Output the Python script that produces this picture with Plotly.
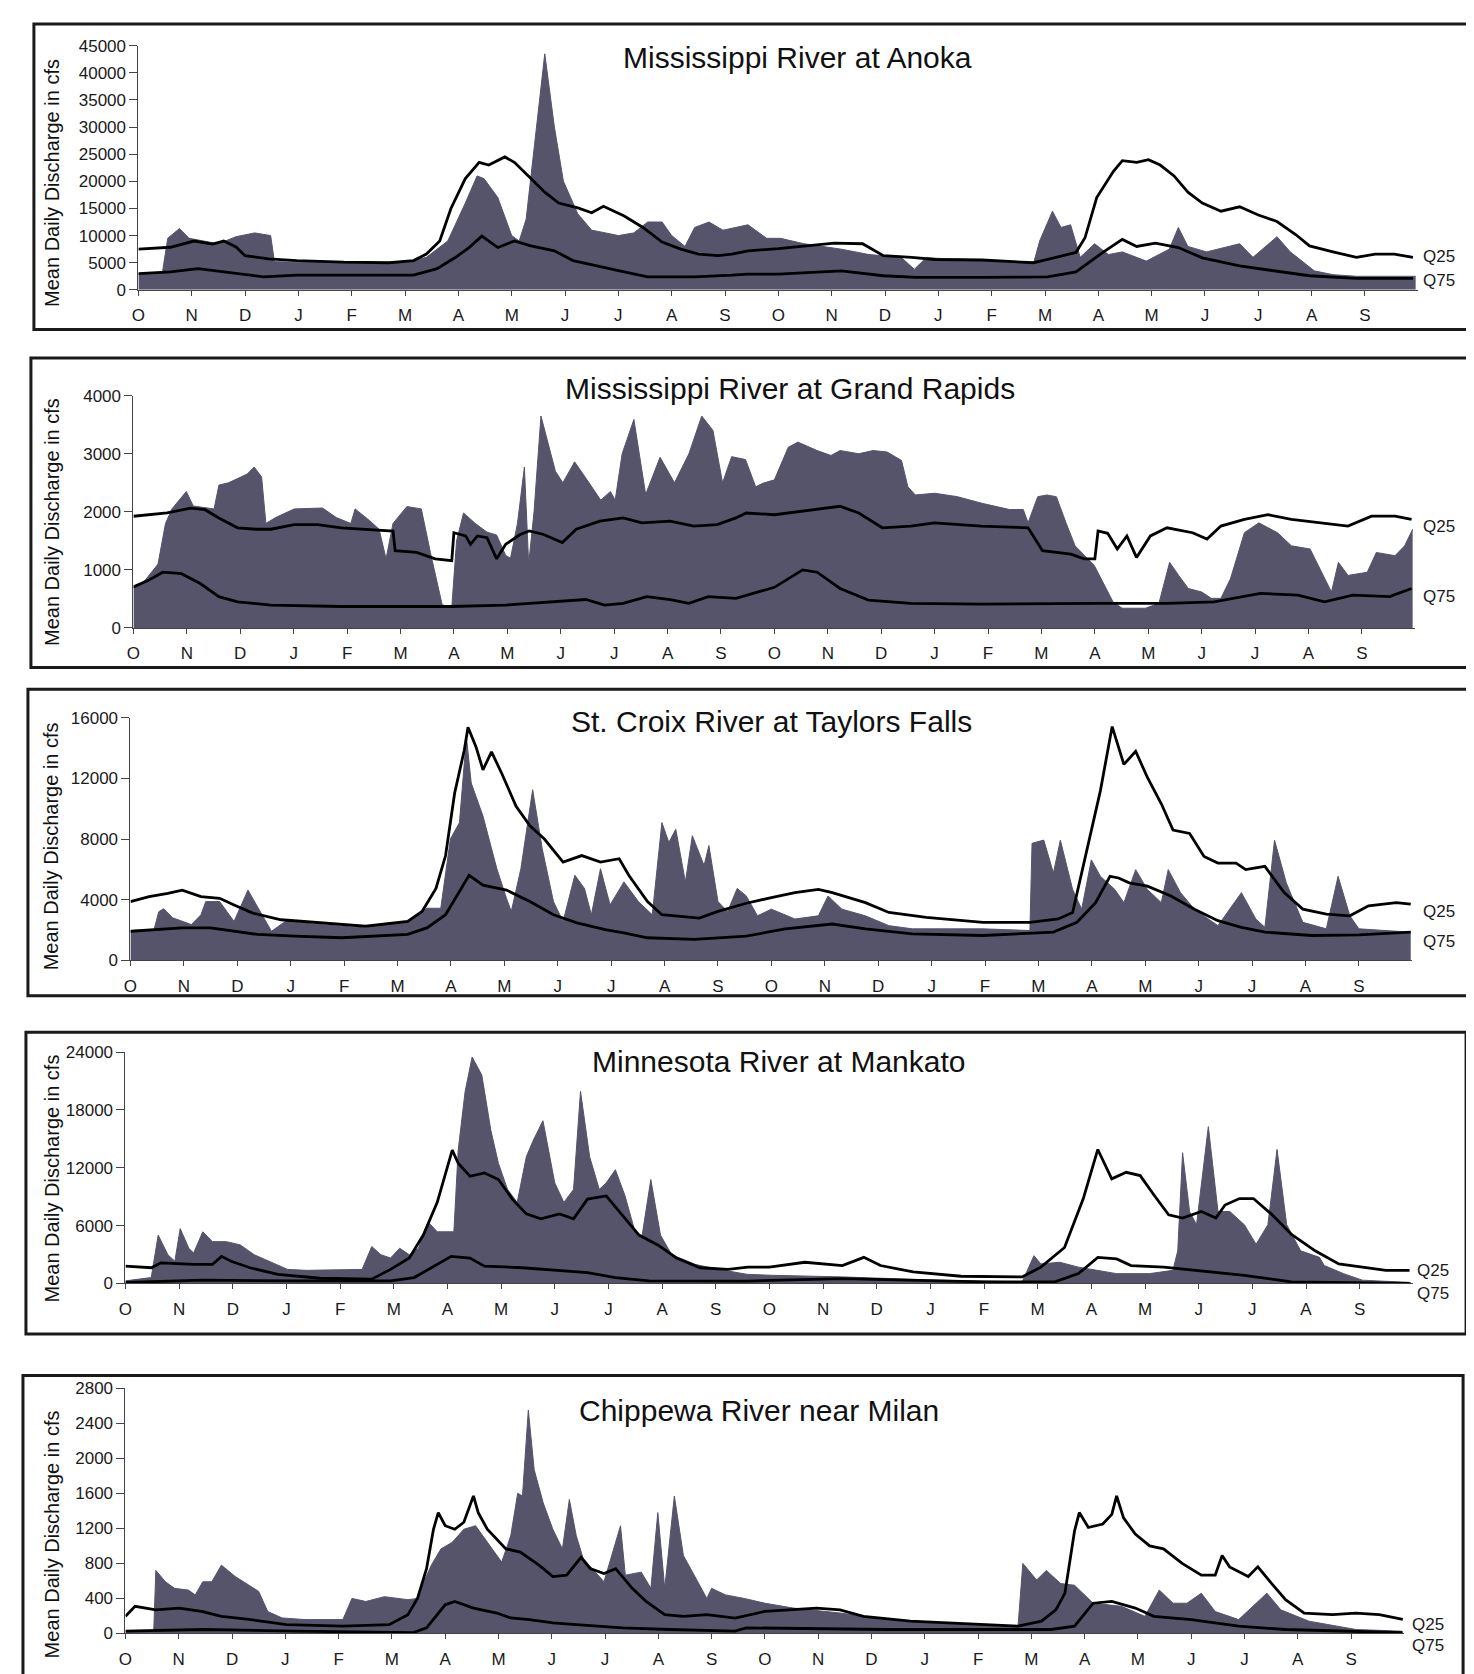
import plotly.graph_objects as go

W, H = 1474, 1674
MONTHS = ["O", "N", "D", "J", "F", "M", "A", "M", "J", "J", "A", "S"] * 2
FILL = "#55546b"
FONT = "Liberation Sans, Arial, sans-serif"

# ---------------- Mississippi River at Anoka ----------------
anoka_flow_x = [0, 0.45, 0.55, 0.77, 0.95, 1.2, 1.5, 1.83, 2.18, 2.48, 2.55, 3.0, 4.0, 5.0, 5.4, 5.8,
                6.13, 6.35, 6.48, 6.74, 7.0, 7.14, 7.27, 7.44, 7.62, 7.8, 7.97, 8.24, 8.5, 8.76, 9.0,
                9.29, 9.55, 9.82, 10.0, 10.25, 10.43, 10.7, 10.96, 11.2, 11.43, 11.78, 12.04, 12.48,
                13.18, 13.7, 14.3, 14.55, 14.77, 15.82, 16.78, 16.9, 17.14, 17.3, 17.48, 17.66, 17.93,
                18.19, 18.45, 18.9, 19.33, 19.5, 19.68, 20.03, 20.65, 20.9, 21.35, 21.6, 22.05, 22.4,
                22.84, 23.95]
anoka_flow = [3000, 3200, 9500, 11300, 9500, 9000, 8500, 9800, 10500, 10000, 5200, 5100, 5000, 5000,
              6000, 9000, 16000, 21000, 20500, 17000, 10000, 9000, 13000, 28000, 43500, 30000, 20000,
              14000, 11000, 10500, 10000, 10500, 12500, 12500, 10000, 8000, 11500, 12500, 11000, 11500,
              12000, 9500, 9500, 8500, 7500, 6500, 6000, 3800, 5900, 5500, 4700, 9000, 14500, 11500,
              12000, 6000, 8500, 6500, 7000, 5300, 7500, 11500, 8000, 7000, 8500, 6000, 9800, 7000,
              3500, 2800, 2500, 2500]
anoka_q25_x = [0, 0.6, 1.04, 1.39, 1.6, 1.83, 2.0, 2.44, 2.97, 3.85, 4.7, 5.16, 5.4, 5.65, 5.86, 6.13,
               6.39, 6.57, 6.87, 7.05, 7.36, 7.62, 7.88, 8.24, 8.5, 8.72, 9.11, 9.46, 9.82, 10.17, 10.5,
               10.87, 11.13, 11.43, 12.0, 12.48, 13.05, 13.58, 13.97, 14.5, 14.94, 15.82, 16.78, 17.05,
               17.58, 17.75, 17.97, 18.28, 18.45, 18.72, 18.94, 19.16, 19.42, 19.68, 19.95, 20.3, 20.65,
               21.0, 21.35, 21.7, 21.96, 22.4, 22.84, 23.19, 23.55, 23.9]
anoka_q25 = [7500, 7850, 9000, 8450, 9000, 7900, 6300, 5700, 5400, 5100, 5000, 5400, 6600, 9000, 15000,
             20500, 23500, 23000, 24500, 23500, 20500, 18000, 16000, 15100, 14200, 15400, 13600, 11500,
             8800, 7500, 6600, 6300, 6600, 7200, 7600, 8000, 8600, 8500, 6300, 6000, 5600, 5500, 5000,
             5600, 6900, 9600, 17000, 21800, 23800, 23500, 24000, 23000, 21000, 18000, 16000, 14500,
             15300, 13800, 12600, 10200, 8100, 7000, 6000, 6600, 6600, 6000]
anoka_q75_x = [0, 0.6, 1.12, 1.65, 2.35, 2.97, 3.85, 5.16, 5.6, 5.95, 6.2, 6.44, 6.74, 7.05, 7.36, 7.8,
               8.15, 8.67, 9.11, 9.55, 10.43, 11.13, 11.43, 12.0, 13.18, 13.97, 14.59, 15.82, 17.05,
               17.58, 18.1, 18.45, 18.72, 19.07, 19.5, 19.95, 20.65, 21.09, 21.96, 22.84, 23.9]
anoka_q75 = [3000, 3300, 3900, 3300, 2400, 2700, 2700, 2700, 3900, 6000, 7800, 9900, 7800, 9000, 8100,
             7200, 5400, 4200, 3300, 2400, 2400, 2700, 2900, 2900, 3500, 2600, 2300, 2300, 2400, 3300,
             7000, 9300, 8000, 8600, 7800, 5900, 4400, 3800, 2600, 2100, 2100]

# ---------------- Mississippi River at Grand Rapids ----------------
grand_flow_x = [0, 0.2, 0.46, 0.6, 0.72, 0.99, 1.12, 1.51, 1.6, 1.78, 2.13, 2.26, 2.4, 2.48, 2.66, 3.01,
                3.54, 3.8, 4.07, 4.15, 4.42, 4.6, 4.73, 4.86, 5.12, 5.39, 5.56, 5.78, 5.96, 6.05, 6.18,
                6.4, 6.62, 6.8, 6.97, 7.06, 7.19, 7.32, 7.4, 7.5, 7.63, 7.9, 8.04, 8.26, 8.53, 8.75,
                8.93, 9.02, 9.15, 9.37, 9.59, 9.86, 10.13, 10.4, 10.64, 10.85, 11.03, 11.2, 11.46,
                11.65, 11.78, 12.0, 12.26, 12.44, 12.8, 13.06, 13.23, 13.58, 13.85, 14.11, 14.38, 14.5,
                14.64, 15.0, 15.43, 15.87, 16.4, 16.66, 16.75, 16.93, 17.1, 17.28, 17.46, 17.63, 17.99,
                18.34, 18.51, 18.95, 19.2, 19.4, 19.57, 19.75, 20.0, 20.18, 20.36, 20.54, 20.8, 21.07,
                21.42, 21.68, 22.03, 22.3, 22.43, 22.56, 22.74, 23.1, 23.27, 23.62, 23.8, 23.95]
grand_flow = [700, 800, 1100, 1800, 2050, 2350, 2100, 2050, 2460, 2500, 2650, 2770, 2600, 1800, 1900,
              2050, 2065, 1900, 1800, 2050, 1850, 1700, 1190, 1800, 2090, 2050, 1300, 400, 350, 1500,
              1980, 1800, 1650, 1600, 1250, 1200, 1800, 2770, 1100, 2000, 3650, 2700, 2500, 2860, 2500,
              2200, 2350, 2200, 3000, 3590, 2300, 2940, 2500, 3000, 3650, 3400, 2500, 2950, 2900, 2430,
              2490, 2550, 3110, 3200, 3055, 2970, 3055, 3000, 3055, 3030, 2885, 2430, 2290, 2320, 2260,
              2150, 2040, 2040, 1810, 2260, 2290, 2260, 1810, 1415, 1075, 450, 340, 340, 425, 1130, 905,
              680, 620, 510, 510, 850, 1640, 1810, 1640, 1415, 1360, 850, 620, 1130, 905, 960, 1300,
              1245, 1415, 1700]
grand_q25_x = [0, 0.37, 0.63, 1.07, 1.34, 1.6, 1.95, 2.3, 2.57, 3.01, 3.45, 3.89, 4.42, 4.86, 4.9, 5.3,
               5.65, 5.96, 6.0, 6.22, 6.31, 6.44, 6.62, 6.8, 6.97, 7.24, 7.41, 7.68, 8.03, 8.29, 8.73,
               9.17, 9.52, 10.05, 10.49, 10.93, 11.28, 11.47, 12.0, 12.53, 13.23, 13.58, 14.02, 14.55,
               15.0, 15.87, 16.75, 17.02, 17.55, 17.8, 18.0, 18.06, 18.24, 18.42, 18.6, 18.78, 19.04,
               19.35, 19.83, 20.1, 20.36, 20.8, 21.24, 21.68, 22.21, 22.74, 23.18, 23.62, 23.93]
grand_q25 = [1924, 1950, 1980, 2065, 2037, 1895, 1725, 1700, 1700, 1780, 1780, 1725, 1700, 1670, 1330,
             1300, 1190, 1160, 1640, 1585, 1440, 1585, 1555, 1190, 1440, 1610, 1670, 1610, 1470, 1700,
             1840, 1895, 1810, 1840, 1755, 1780, 1895, 1980, 1950, 2010, 2095, 1980, 1725, 1755, 1810,
             1755, 1725, 1330, 1270, 1190, 1190, 1670, 1630, 1360, 1585, 1215, 1585, 1725, 1640, 1530,
             1755, 1870, 1950, 1870, 1810, 1755, 1925, 1925, 1870]
grand_q75_x = [0, 0.28, 0.55, 0.9, 1.25, 1.6, 1.95, 2.57, 3.89, 5.96, 6.97, 8.29, 8.47, 8.82, 9.17, 9.61,
               10.05, 10.4, 10.76, 11.28, 11.47, 12.0, 12.53, 12.8, 13.23, 13.76, 14.55, 15.87, 18.06,
               19.35, 20.23, 21.1, 21.8, 22.3, 22.83, 23.52, 23.93]
grand_q75 = [707, 820, 960, 935, 765, 540, 450, 395, 370, 370, 395, 480, 490, 395, 425, 540, 490, 425,
             540, 510, 560, 700, 1000, 960, 680, 480, 425, 410, 425, 425, 450, 595, 565, 450, 565, 540,
             680]

# ---------------- St. Croix River at Taylors Falls ----------------
croix_flow_x = [0, 0.44, 0.53, 0.62, 0.79, 1.14, 1.32, 1.41, 1.67, 1.94, 2.2, 2.46, 2.64, 2.9, 3.52, 4.4,
                5.19, 5.55, 5.81, 5.99, 6.16, 6.29, 6.38, 6.6, 6.86, 7.04, 7.13, 7.31, 7.53, 7.71, 7.92,
                8.1, 8.32, 8.5, 8.63, 8.8, 8.98, 9.24, 9.51, 9.77, 9.95, 10.08, 10.21, 10.39, 10.52,
                10.74, 10.83, 11.0, 11.18, 11.36, 11.53, 11.74, 12.0, 12.44, 12.88, 13.06, 13.32, 13.76,
                14.2, 14.64, 15.96, 16.84, 16.88, 17.1, 17.28, 17.41, 17.64, 17.81, 17.99, 18.16, 18.43,
                18.6, 18.82, 19.04, 19.3, 19.43, 19.66, 19.92, 20.36, 20.8, 21.07, 21.24, 21.42, 21.64,
                21.95, 22.39, 22.61, 22.83, 23.0, 23.97]
croix_flow = [1900, 2000, 3200, 3400, 2800, 2350, 3000, 3870, 3870, 2560, 4630, 3000, 1910, 2560, 2350,
              2130, 2560, 3430, 3430, 8000, 9090, 14740, 11700, 9520, 6040, 4090, 3220, 6040, 11260, 7350,
              3870, 2560, 5610, 4740, 3000, 6040, 3650, 5170, 3870, 3000, 9090, 7780, 8650, 5170, 8220,
              6260, 7570, 3870, 3220, 4740, 4240, 2930, 3370, 2720, 2930, 4240, 3370, 2930, 2280, 2070,
              2070, 1960, 7720, 7930, 5760, 7930, 4670, 3370, 6630, 5540, 4670, 3800, 5980, 4670, 3800,
              5980, 4460, 3370, 2280, 4460, 2720, 2170, 7930, 5110, 2500, 2070, 5540, 2930, 2070, 1850]
croix_q25_x = [0, 0.35, 0.7, 0.97, 1.32, 1.67, 1.94, 2.29, 2.82, 3.52, 4.4, 5.19, 5.46, 5.72, 5.9, 6.07,
               6.25, 6.32, 6.47, 6.6, 6.76, 6.95, 7.22, 7.48, 7.75, 8.1, 8.45, 8.8, 9.15, 9.33, 9.68,
               9.95, 10.3, 10.65, 11.0, 11.53, 12.0, 12.44, 12.88, 13.14, 13.76, 14.2, 14.9, 15.96,
               16.84, 17.37, 17.64, 17.9, 18.16, 18.38, 18.6, 18.82, 19.04, 19.3, 19.52, 19.83, 20.1,
               20.36, 20.7, 20.88, 21.24, 21.6, 21.95, 22.39, 22.83, 23.18, 23.7, 23.97]
croix_q25 = [3870, 4200, 4410, 4630, 4200, 4090, 3650, 3110, 2670, 2460, 2240, 2565, 3220, 4740, 6910,
             11040, 13870, 15390, 14090, 12570, 13760, 12350, 10170, 8870, 8000, 6480, 6910, 6480, 6700,
             5610, 3870, 3000, 2890, 2780, 3220, 3760, 4130, 4460, 4670, 4460, 3800, 3150, 2830, 2500,
             2500, 2720, 3150, 7280, 11200, 15430, 12930, 13800, 12070, 10330, 8590, 8370, 6850, 6410,
             6410, 5980, 6200, 4460, 3370, 3040, 2930, 3590, 3800, 3700]
croix_q75_x = [0, 0.44, 0.97, 1.5, 1.94, 2.38, 3.08, 3.96, 5.19, 5.55, 5.9, 6.16, 6.34, 6.6, 7.04, 7.48,
               7.92, 8.36, 8.89, 9.24, 9.68, 10.56, 11.53, 12.26, 13.14, 13.76, 14.64, 15.96, 17.28,
               17.72, 18.07, 18.34, 18.5, 18.7, 19.04, 19.48, 19.92, 20.36, 20.8, 21.24, 22.12, 23.0,
               23.97]
croix_q75 = [1910, 2020, 2130, 2130, 1910, 1700, 1590, 1480, 1700, 2130, 3000, 4520, 5610, 4960, 4630,
             3870, 3000, 2460, 2020, 1800, 1480, 1370, 1590, 2070, 2390, 2070, 1740, 1630, 1850, 2500,
             3800, 5540, 5430, 5110, 4890, 4240, 3370, 2610, 2170, 1850, 1630, 1670, 1850]

# ---------------- Minnesota River at Mankato ----------------
mank_flow_x = [0, 0.48, 0.61, 0.79, 0.92, 1.02, 1.18, 1.27, 1.44, 1.62, 1.88, 2.14, 2.4, 2.67, 3.02, 3.37,
               4.07, 4.41, 4.59, 4.76, 4.94, 5.11, 5.29, 5.46, 5.64, 5.81, 6.12, 6.2, 6.33, 6.46, 6.64,
               6.81, 6.95, 7.12, 7.3, 7.47, 7.6, 7.78, 8.0, 8.17, 8.35, 8.48, 8.65, 8.83, 8.96, 9.13,
               9.31, 9.48, 9.62, 9.79, 9.97, 10.18, 10.62, 11.06, 11.58, 12.04, 13.36, 15.12, 16.71,
               16.93, 17.06, 17.41, 17.76, 18.12, 18.47, 19.08, 19.52, 19.61, 19.7, 19.83, 19.96, 20.18,
               20.36, 20.58, 20.85, 21.07, 21.29, 21.46, 21.64, 21.9, 22.25, 22.34, 22.7, 23.05, 23.95]
mank_flow = [270, 610, 5020, 2980, 2300, 5690, 3660, 3150, 5360, 4340, 4340, 4000, 2980, 2300, 1460, 1360,
             1460, 1460, 3830, 2980, 2640, 3660, 2980, 3660, 6370, 5360, 5360, 13830, 19930, 23490, 21630,
             15860, 12470, 9760, 8410, 13150, 14850, 16880, 10440, 8410, 9760, 19930, 13150, 9760, 10440,
             11800, 9080, 5690, 4680, 10780, 5020, 2980, 1970, 1460, 950, 850, 680, 340, 170, 2880, 2030,
             2200, 1690, 1360, 1020, 1020, 1360, 3390, 13560, 7460, 6100, 16270, 7460, 7460, 6100, 4070,
             6100, 13900, 6100, 3390, 2710, 1860, 1020, 340, 100]
mank_q25_x = [0, 0.48, 0.66, 1.27, 1.62, 1.79, 1.97, 2.32, 2.84, 3.63, 4.59, 4.94, 5.29, 5.55, 5.81, 5.99,
              6.09, 6.2, 6.42, 6.69, 6.95, 7.21, 7.47, 7.74, 8.09, 8.35, 8.61, 8.96, 9.22, 9.57, 9.92,
              10.27, 10.71, 11.23, 11.6, 12.0, 12.66, 13.36, 13.76, 14.07, 14.68, 15.57, 16.71, 17.06,
              17.5, 17.85, 18.12, 18.38, 18.65, 18.91, 19.17, 19.44, 19.7, 20.05, 20.32, 20.49, 20.76,
              21.02, 21.37, 21.73, 22.17, 22.61, 23.05, 23.49, 23.93]
mank_q25 = [1800, 1630, 2140, 1970, 1970, 2810, 2300, 1630, 950, 540, 440, 1460, 2640, 5020, 8410, 11800,
            13830, 12470, 11120, 11460, 10780, 8750, 7220, 6710, 7220, 6710, 8750, 9080, 7390, 5020, 4000,
            2640, 1630, 1460, 1700, 1690, 2200, 1860, 2710, 1860, 1190, 750, 680, 1690, 3730, 8810,
            13900, 10850, 11530, 11190, 9150, 7120, 6780, 7460, 6780, 8140, 8810, 8810, 7120, 5080,
            3390, 2030, 1690, 1360, 1360]
mank_q75_x = [0, 1.44, 3.19, 4.94, 5.38, 5.81, 6.07, 6.42, 6.69, 7.39, 8.0, 8.61, 9.13, 9.75, 11.58,
              13.36, 15.99, 17.32, 17.76, 18.12, 18.47, 18.74, 19.35, 19.97, 20.85, 21.73, 23.93]
mank_q75 = [100, 340, 270, 270, 610, 1970, 2810, 2640, 1800, 1630, 1360, 1120, 610, 270, 250, 500, 170,
            170, 1020, 2710, 2540, 1860, 1690, 1360, 850, 170, 0]

# ---------------- Chippewa River near Milan ----------------
chip_flow_x = [0, 0.53, 0.57, 0.75, 0.92, 1.18, 1.31, 1.45, 1.62, 1.8, 2.06, 2.32, 2.5, 2.67, 2.94, 3.37,
               4.08, 4.25, 4.51, 4.86, 5.3, 5.48, 5.57, 5.74, 5.92, 6.13, 6.35, 6.57, 6.79, 7.06, 7.23,
               7.36, 7.45, 7.56, 7.67, 7.84, 8.02, 8.2, 8.33, 8.46, 8.59, 8.81, 8.98, 9.29, 9.38, 9.68,
               9.86, 9.99, 10.12, 10.3, 10.47, 10.74, 10.91, 11.0, 11.26, 11.61, 12.0, 12.53, 13.41,
               14.29, 15.17, 16.75, 16.84, 17.1, 17.28, 17.55, 17.81, 18.16, 18.69, 19.13, 19.4, 19.66,
               19.92, 20.19, 20.45, 20.89, 21.42, 21.68, 22.21, 23.09, 23.95]
chip_flow = [26, 26, 720, 590, 515, 495, 440, 590, 590, 780, 650, 550, 480, 250, 177, 158, 158, 400, 365,
             420, 385, 400, 550, 780, 965, 1040, 1190, 1230, 1040, 815, 1115, 1600, 1570, 2550, 1870,
             1490, 1190, 965, 1530, 1115, 855, 700, 590, 1230, 665, 700, 515, 1380, 515, 1570, 890, 590,
             400, 515, 440, 400, 345, 290, 233, 158, 120, 83, 800, 610, 720, 570, 550, 345, 310, 195,
             495, 345, 345, 460, 250, 158, 460, 270, 140, 45, 26]
chip_q25_x = [0, 0.18, 0.57, 1.01, 1.45, 1.8, 2.32, 3.02, 4.08, 4.95, 5.3, 5.48, 5.65, 5.78, 5.87, 6.0,
              6.18, 6.35, 6.53, 6.62, 6.79, 7.14, 7.41, 7.76, 8.02, 8.28, 8.55, 8.72, 8.98, 9.2, 9.51,
              9.77, 10.12, 10.47, 10.91, 11.44, 12.0, 12.53, 12.97, 13.41, 13.85, 14.73, 16.05, 16.75,
              17.19, 17.46, 17.63, 17.81, 17.9, 18.07, 18.34, 18.51, 18.6, 18.73, 18.95, 19.22, 19.48,
              19.83, 20.19, 20.45, 20.58, 20.72, 21.07, 21.25, 21.51, 21.77, 22.12, 22.65, 23.09, 23.53,
              23.97]
chip_q25 = [195, 310, 270, 290, 250, 195, 160, 100, 83, 100, 215, 400, 740, 1190, 1380, 1230, 1190, 1270,
            1570, 1380, 1190, 966, 930, 780, 650, 665, 870, 740, 685, 740, 515, 365, 215, 195, 215, 175,
            252, 270, 290, 270, 195, 140, 100, 83, 140, 270, 460, 1170, 1380, 1210, 1250, 1360, 1570,
            1320, 1135, 1000, 966, 800, 665, 665, 890, 760, 650, 760, 570, 385, 233, 215, 233, 215, 160]
chip_q75_x = [0, 1.45, 3.2, 5.39, 5.65, 6.0, 6.18, 6.53, 6.97, 7.23, 7.58, 8.02, 8.46, 9.33, 10.21, 11.44,
              11.65, 14.29, 17.37, 17.81, 18.16, 18.51, 18.95, 19.3, 20.0, 20.89, 21.77, 23.97]
chip_q75 = [26, 45, 26, 8, 64, 327, 365, 290, 233, 177, 158, 120, 100, 64, 45, 26, 64, 45, 45, 83, 345,
            365, 290, 195, 158, 83, 45, 8]

# ---------------- Panel definitions ----------------
panel_titles = ["Mississippi River at Anoka", "Mississippi River at Grand Rapids",
                "St. Croix River at Taylors Falls", "Minnesota River at Mankato",
                "Chippewa River near Milan"]
panel_ymax = [45000, 4000, 16000, 24000, 2800]
panel_ystep = [5000, 1000, 4000, 6000, 400]
series = [
    (anoka_flow_x, anoka_flow, anoka_q25_x, anoka_q25, anoka_q75_x, anoka_q75),
    (grand_flow_x, grand_flow, grand_q25_x, grand_q25, grand_q75_x, grand_q75),
    (croix_flow_x, croix_flow, croix_q25_x, croix_q25, croix_q75_x, croix_q75),
    (mank_flow_x, mank_flow, mank_q25_x, mank_q25, mank_q75_x, mank_q75),
    (chip_flow_x, chip_flow, chip_q25_x, chip_q25, chip_q75_x, chip_q75),
]
plot_px = [
    (124, 1410, 276, 29),
    (119, 1407, 618, 383),
    (116, 1404, 954, 709),
    (111, 1405, 1281, 1047),
    (111, 1396, 1635, 1387),
]
box_px = [
    (19, 7, 1468, 316),
    (16, 345, 1465, 658),
    (13, 680, 1462, 990),
    (11, 1027, 1458, 1332),
    (8, 1374, 1455, 1700),
]
title_px = [(786, 41), (779, 376), (760, 713), (768, 1056), (748, 1409)]
ytitle_py = [168, 511, 839, 1175, 1535]
q_label_px = [(1413, 242, 267), (1413, 515, 586), (1413, 905, 935), (1407, 1268, 1291),
              (1402, 1626, 1647)]


def px(x):
    return x / W


def py(y):
    return 1 - y / H


fig = go.Figure()
layout = dict(width=W, height=H, margin=dict(l=0, r=0, t=0, b=0), showlegend=False,
              paper_bgcolor="white", plot_bgcolor="white", shapes=[], annotations=[])

for i in range(5):
    n = "" if i == 0 else str(i + 1)
    fx, fy, q25x, q25y, q75x, q75y = series[i]
    xa, ya = "x" + n, "y" + n
    fig.add_trace(go.Scatter(x=fx, y=fy, xaxis=xa, yaxis=ya, mode="lines", fill="tozeroy",
                             fillcolor=FILL, line=dict(color=FILL, width=1), hoverinfo="skip"))
    fig.add_trace(go.Scatter(x=q25x, y=q25y, xaxis=xa, yaxis=ya, mode="lines",
                             line=dict(color="black", width=2.8)))
    fig.add_trace(go.Scatter(x=q75x, y=q75y, xaxis=xa, yaxis=ya, mode="lines",
                             line=dict(color="black", width=2.8)))

    x0, x1, yb, yt = plot_px[i]
    layout["xaxis" + n] = dict(
        domain=[px(x0), px(x1)], range=[0, 24], anchor=ya,
        tickmode="array", tickvals=list(range(24)), ticktext=MONTHS,
        showline=True, linecolor="#444", linewidth=1, ticks="outside", ticklen=5,
        tickcolor="#444", tickfont=dict(family=FONT, size=17, color="#1a1a1a"),
        ticklabelstandoff=5, showgrid=False, zeroline=False)
    ymax, step = panel_ymax[i], panel_ystep[i]
    yticks = list(range(0, ymax + 1, step))
    layout["yaxis" + n] = dict(
        domain=[py(yb), py(yt)], range=[0, ymax], anchor=xa,
        tickmode="array", tickvals=yticks, ticktext=[str(v) for v in yticks],
        showline=True, linecolor="#444", linewidth=1, ticks="outside", ticklen=8,
        tickcolor="#444", tickfont=dict(family=FONT, size=17, color="#1a1a1a"),
        showgrid=False, zeroline=False)

    bx0, by0, bx1, by1 = box_px[i]
    layout["shapes"].append(dict(type="rect", xref="paper", yref="paper",
                                 x0=px(bx0), x1=px(bx1), y0=py(by1), y1=py(by0),
                                 line=dict(color="#1a1a1a", width=3), fillcolor="rgba(0,0,0,0)",
                                 layer="above"))
    tx, ty = title_px[i]
    layout["annotations"].append(dict(text=panel_titles[i], xref="paper", yref="paper",
                                      x=px(tx), y=py(ty), xanchor="center", yanchor="middle",
                                      showarrow=False,
                                      font=dict(family=FONT, size=30, color="#111")))
    layout["annotations"].append(dict(text="Mean Daily Discharge in cfs", xref="paper",
                                      yref="paper", x=px(37), y=py(ytitle_py[i]),
                                      xanchor="center", yanchor="middle", textangle=-90,
                                      showarrow=False,
                                      font=dict(family=FONT, size=20, color="#111")))
    lx, l25, l75 = q_label_px[i]
    for txt, ly in (("Q25", l25), ("Q75", l75)):
        layout["annotations"].append(dict(text=txt, xref="paper", yref="paper", x=px(lx),
                                          y=py(ly), xanchor="left", yanchor="middle",
                                          showarrow=False,
                                          font=dict(family=FONT, size=17, color="#1a1a1a")))

fig.update_layout(**layout)
fig.write_html("out.html")
